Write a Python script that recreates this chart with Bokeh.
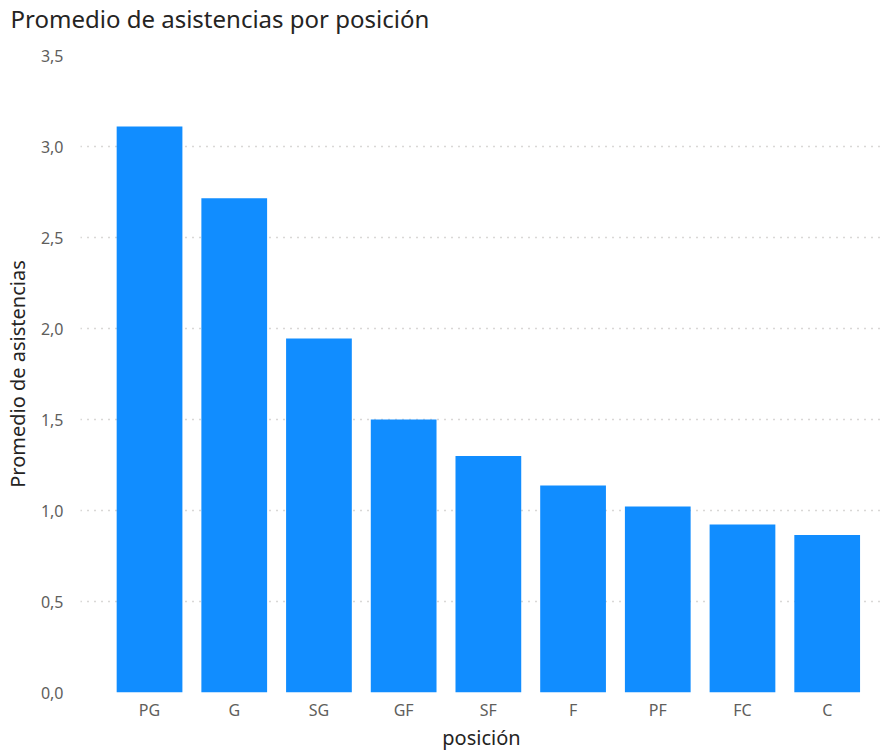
from bokeh.plotting import figure
from bokeh.models import ColumnDataSource, FixedTicker, CustomJSTickFormatter, Range1d, Title
from bokeh.embed import file_html
from bokeh.resources import INLINE

categories = ["PG", "G", "SG", "GF", "SF", "F", "PF", "FC", "C"]
values = [3.11, 2.715, 1.945, 1.50, 1.30, 1.137, 1.022, 0.923, 0.866]
y_ticks = [0.0, 0.5, 1.0, 1.5, 2.0, 2.5, 3.0, 3.5]
title_text = "Promedio de asistencias por posición"

FONT = "Noto Sans"
positions = list(range(len(categories)))
src = ColumnDataSource(dict(x=positions, top=values, cat=categories))

p = figure(width=882, height=753, output_backend="svg", toolbar_location=None,
           x_range=Range1d(-0.815, 8.653), y_range=Range1d(0, 3.5),
           min_border_left=80, min_border_right=0, min_border_top=55, min_border_bottom=0)
p.outline_line_color = None
p.background_fill_color = "white"
p.border_fill_color = "white"

p.vbar(x="x", top="top", bottom=0, width=0.776, source=src,
       fill_color="#118DFF", line_color=None)

# spacer panel between the frame and the title, pushes the title to the top
spacer = Title(text=" ", text_font=FONT, text_font_size="1px", standoff=16)
p.add_layout(spacer, "above")
t = Title(text=title_text, text_font=FONT, text_font_size="24px",
          text_color="#252423", text_font_style="normal",
          align="left", vertical_align="top", offset=-70, standoff=0)
p.add_layout(t, "above")

# y axis
p.yaxis.ticker = FixedTicker(ticks=y_ticks)
p.yaxis.formatter = CustomJSTickFormatter(code="return tick.toFixed(1).replace('.', ',');")
p.yaxis.axis_line_color = None
p.yaxis.major_tick_line_color = None
p.yaxis.minor_tick_line_color = None
p.yaxis.major_label_text_font = FONT
p.yaxis.major_label_text_font_size = "16px"
p.yaxis.major_label_text_color = "#605E5C"
p.yaxis.major_label_standoff = 11
p.yaxis.axis_label = "Promedio de asistencias"
p.yaxis.axis_label_text_font = FONT
p.yaxis.axis_label_text_font_size = "20px"
p.yaxis.axis_label_text_font_style = "normal"
p.yaxis.axis_label_text_color = "#252423"
p.yaxis.axis_label_standoff = 7

# x axis
p.xaxis.ticker = FixedTicker(ticks=positions)
p.xaxis.major_label_overrides = {i: c for i, c in zip(positions, categories)}
p.xaxis.axis_line_color = None
p.xaxis.major_tick_line_color = None
p.xaxis.minor_tick_line_color = None
p.xaxis.major_label_text_font = FONT
p.xaxis.major_label_text_font_size = "16px"
p.xaxis.major_label_text_color = "#605E5C"
p.xaxis.major_label_standoff = 0
p.xaxis.axis_label = "posición"
p.xaxis.axis_label_text_font = FONT
p.xaxis.axis_label_text_font_size = "20px"
p.xaxis.axis_label_text_font_style = "normal"
p.xaxis.axis_label_text_color = "#252423"
p.xaxis.axis_label_standoff = 0

p.xgrid.grid_line_color = None
p.ygrid.grid_line_color = "#B3B0AD"
p.ygrid.grid_line_dash = "1 6"
p.ygrid.grid_line_width = 1.3

open("out.html", "w").write(file_html(p, INLINE))
